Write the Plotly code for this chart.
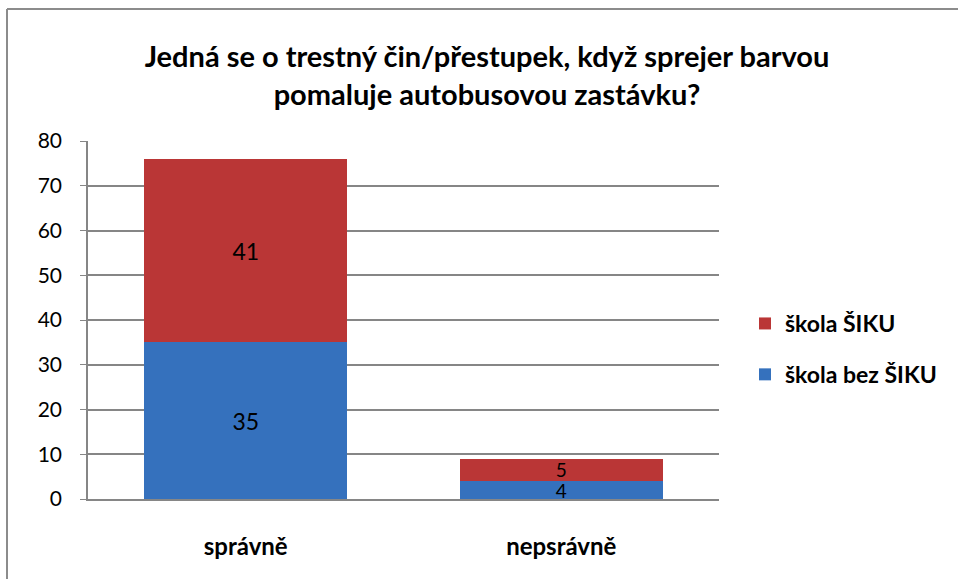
import plotly.graph_objects as go

categories = ["správně", "nepsrávně"]
bez_siku = [35, 4]
siku = [41, 5]
series_names = ["škola bez ŠIKU", "škola ŠIKU"]
y_ticks = [0, 10, 20, 30, 40, 50, 60, 70, 80]
title_text = "Jedná se o trestný čin/přestupek, když sprejer barvou<br>pomaluje autobusovou zastávku?"

FONT = "Lato"
W, H = 958, 579
L, R, T, B = 88, 239, 141, 80
pw, ph = W - L - R, H - T - B
label_sizes = [23, 19]

fig = go.Figure()
fig.add_trace(go.Bar(
    x=categories, y=bez_siku, name=series_names[0], legendgroup="a", legendrank=2,
    marker=dict(color="#3571bd", line=dict(width=0)),
    text=bez_siku, textposition="inside", insidetextanchor="middle", textangle=0,
    constraintext="none", cliponaxis=False,
    textfont=dict(family=FONT, size=label_sizes, color="#000000"),
))
fig.add_trace(go.Bar(
    x=categories, y=siku, name=series_names[1], legendgroup="b", legendrank=1,
    marker=dict(color="#ba3636", line=dict(width=0)),
    text=siku, textposition="inside", insidetextanchor="middle", textangle=0,
    constraintext="none", cliponaxis=False,
    textfont=dict(family=FONT, size=label_sizes, color="#000000"),
))

def px_x(p):
    return (p - L) / pw

def px_y(p):
    return (H - B - p) / ph

fig.update_layout(
    width=W, height=H,
    barmode="stack", bargap=0.357,
    plot_bgcolor="white", paper_bgcolor="white",
    margin=dict(l=L, r=R, t=T, b=B, autoexpand=False),
    font=dict(family=FONT, size=17, color="#000000"),
    title=dict(text=title_text, x=487 / W, xanchor="center", y=1 - 67 / H, yanchor="middle",
               font=dict(family=FONT, size=29, color="#000000", weight="bold")),
    showlegend=True,
    legend=dict(x=px_x(745), xanchor="left", y=px_y(349), yanchor="middle",
                traceorder="grouped", tracegroupgap=18,
                font=dict(family=FONT, size=23, color="#000000", weight="bold"),
                bgcolor="rgba(0,0,0,0)"),
    shapes=[
        dict(type="line", xref="paper", yref="paper", x0=px_x(7), x1=px_x(7), y0=px_y(9), y1=px_y(H + 5),
             line=dict(color="#8c8c8c", width=2)),
        dict(type="line", xref="paper", yref="paper", x0=px_x(7), x1=px_x(W + 5), y0=px_y(9), y1=px_y(9),
             line=dict(color="#8c8c8c", width=2)),
    ],
)
fig.update_yaxes(
    range=[0, 80], tickvals=y_ticks, showgrid=True, gridcolor="#868686", gridwidth=1.5,
    showline=True, linecolor="#868686", linewidth=1.5, zeroline=False,
    ticks="outside", ticklen=6, tickcolor="#868686", ticklabelstandoff=14,
    tickfont=dict(family=FONT, size=21, color="#000000"),
)
fig.update_xaxes(
    showline=True, linecolor="#868686", linewidth=1.5, showgrid=False,
    ticks="", ticklabelstandoff=25,
    tickfont=dict(family=FONT, size=24, color="#000000", weight="bold"),
)

fig.write_html("out.html", config={"displayModeBar": False},
               post_script="document.body.style.margin='0';document.body.style.overflow='hidden';")
